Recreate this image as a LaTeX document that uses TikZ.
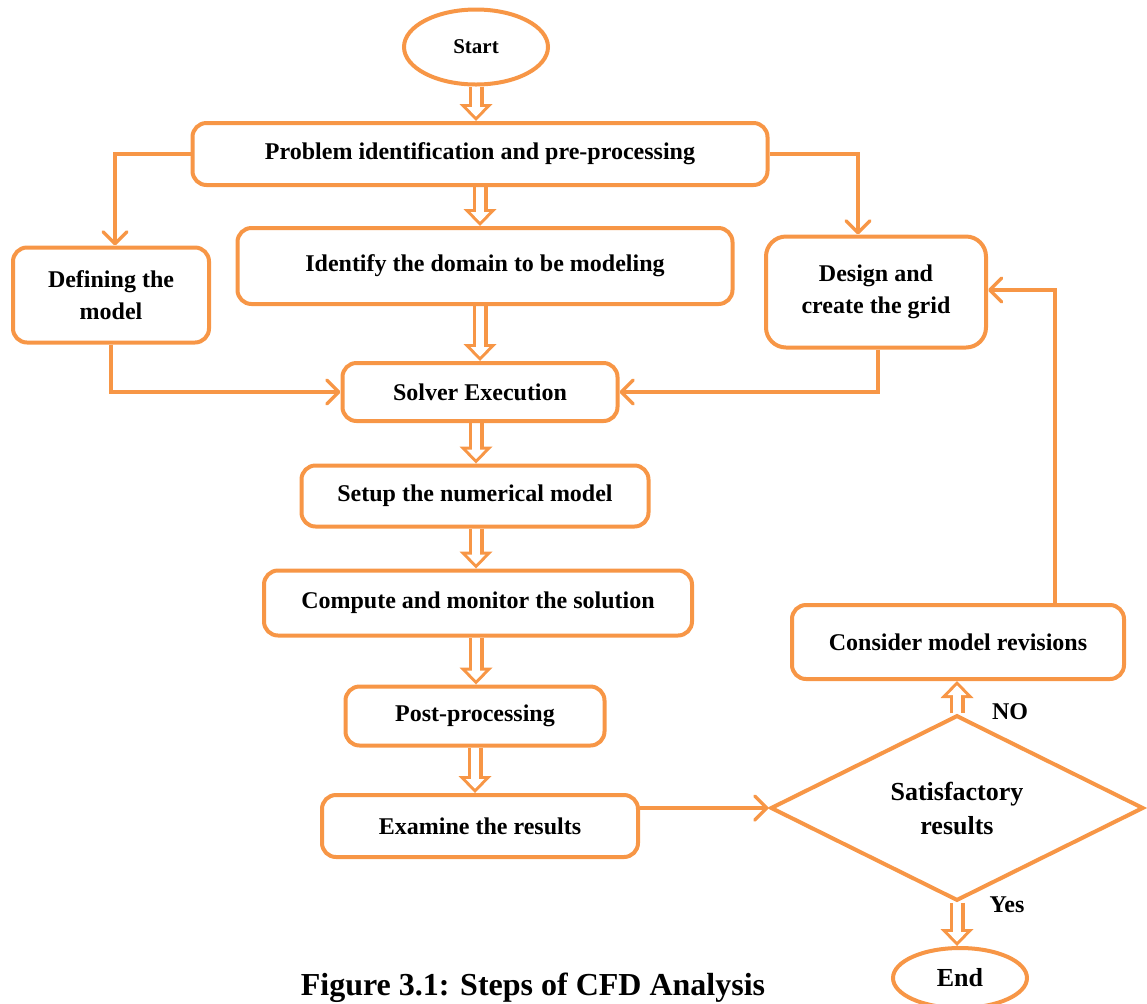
\documentclass[tikz,border=0pt]{standalone}
\usepackage{fontspec}
\setmainfont{Liberation Serif}
\usetikzlibrary{shapes.geometric,arrows.meta,backgrounds}
\definecolor{cfdorange}{HTML}{F79646}

\tikzset{
  stepbox/.style={draw=cfdorange, line width=2pt, rounded corners=7pt, fill=white, align=center,
    font=\bfseries\fontsize{12}{16}\selectfont},
  term/.style={ellipse, draw=cfdorange, line width=2pt, fill=white, inner sep=0pt},
  lnk/.style={draw=cfdorange, line width=1.75pt, -{Straight Barb[round,length=6pt,width=12pt]}},
  hol/.style={preaction={draw=cfdorange, line width=7.5pt, shorten >=0pt,
      -{Triangle[length=8.5pt,width=16.5pt,line width=0pt]}},
    draw=white, line width=4.3pt, shorten >=2.2pt, -{Triangle[length=4.8pt,width=9.4pt,line width=0pt]}},
  lbl/.style={font=\bfseries\fontsize{12}{14}\selectfont}
}

\begin{document}
\begin{tikzpicture}[x=0.5pt, y=-0.5pt]
\useasboundingbox (0,0) rectangle (1147,1003);
\clip (0,0) rectangle (1147,1003);

% main column
\node[term, minimum width=72pt, minimum height=37.5pt, font=\bfseries\fontsize{10.5}{12}\selectfont] (start) at (476,47) {Start};
\node[stepbox, minimum width=287.5pt, minimum height=31pt] (prob) at (480,154) {Problem identification and pre-processing};
\node[stepbox, minimum width=247.5pt, minimum height=38pt] (dom) at (485,266) {Identify the domain to be modeling};
\node[stepbox, minimum width=137.5pt, minimum height=29pt] (solv) at (480,392) {Solver Execution};
\node[stepbox, minimum width=173.5pt, minimum height=30.5pt] (setup) at (475,496) {Setup the numerical model};
\node[stepbox, minimum width=214pt, minimum height=32.5pt] (comp) at (478,603) {Compute and monitor the solution};
\node[stepbox, minimum width=129.5pt, minimum height=29.5pt] (post) at (475,716) {Post-processing};
\node[stepbox, minimum width=158pt, minimum height=31pt] (exam) at (480,826) {Examine the results};

% side boxes
\node[stepbox, minimum width=98pt, minimum height=47.5pt] (def) at (111,295) {Defining the\\model};
\node[stepbox, minimum width=110pt, minimum height=55.5pt, rounded corners=10pt] (grid) at (876,292) {Design and\\create the grid};
\node[stepbox, minimum width=166pt, minimum height=37pt] (rev) at (958,642) {Consider model revisions};

% decision and end
\node[diamond, draw=cfdorange, line width=2pt, fill=white, inner sep=0pt, align=center,
  minimum width=186.5pt, minimum height=86.5pt, font=\bfseries\fontsize{13}{17}\selectfont] (sat) at (957,808) {Satisfactory\\results};
\node[term, minimum width=67pt, minimum height=30pt, font=\bfseries\fontsize{13}{15}\selectfont] (endn) at (960,978) {End};

\node[lbl] (nolbl) at (1010,712) {NO};
\node[lbl] (yeslbl) at (1007,905) {Yes};

\node[font=\bfseries\fontsize{16}{18}\selectfont, anchor=base] (cap) at (533,995) {Figure 3.1: Steps of CFD Analysis};

\begin{scope}[on background layer]
  % hollow arrows
  \draw[hol] (start.south) -- (start.south |- prob.north);
  \draw[hol] (prob.south) -- (prob.south |- dom.north);
  \draw[hol] (solv.north |- dom.south) -- (solv.north);
  \draw[hol] (solv.south -| start.south) -- (start.south |- setup.north);
  \draw[hol] (setup.south -| start.south) -- (start.south |- comp.north);
  \draw[hol] (comp.south -| start.south) -- (start.south |- post.north);
  \draw[hol] (post.south) -- (post.south |- exam.north);
  \draw[hol] (sat.north) -- (sat.north |- rev.south);
  \draw[hol] (sat.south) -- (sat.south |- endn.north);

  % plain links
  \draw[lnk] (prob.west) -| ([xshift=2pt]def.north);
  \draw[lnk] (prob.east) -| ([xshift=-9pt]grid.north);
  \draw[lnk] (def.south) |- (solv.west);
  \draw[lnk] ([xshift=1pt]grid.south) |- (solv.east);
  \draw[lnk] ([xshift=48.5pt]rev.north) |- ([yshift=1pt]grid.east);
  \draw[lnk] (exam.east |- sat.west) -- (sat.west);
\end{scope}
\end{tikzpicture}
\end{document}
